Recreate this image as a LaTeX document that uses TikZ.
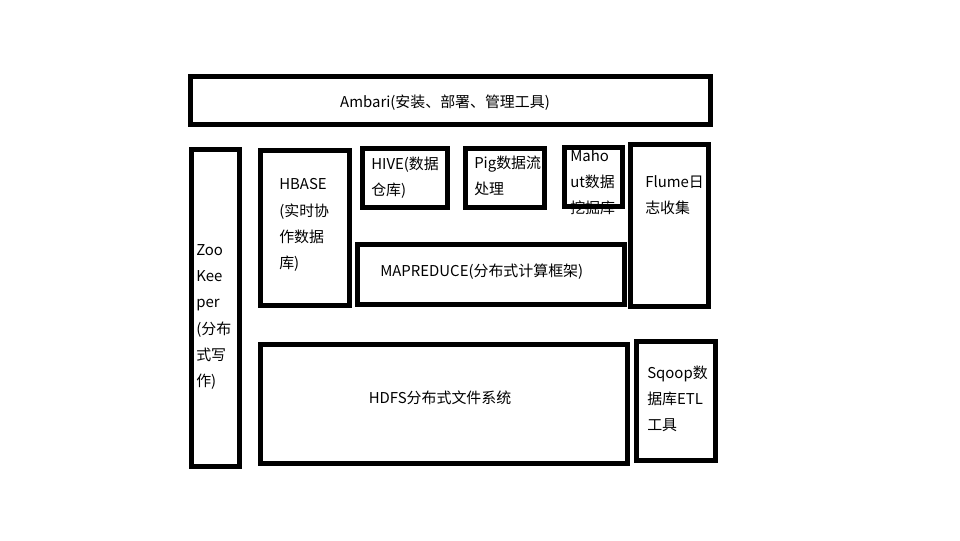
\documentclass[tikz,border=0pt]{standalone}
\usepackage{fontspec}
\setmainfont{Noto Sans CJK SC}
\begin{document}
\begin{tikzpicture}[x=0.75pt,y=-0.75pt,
  box/.style={draw=black,line width=3.75pt,fill=none,inner sep=0pt,outer sep=0pt},
  lbl/.style={inner sep=0pt,align=left,anchor=west,text=black,font=\fontsize{11.2}{19.6}\selectfont},
  clbl/.style={inner sep=0pt,align=center,text=black,font=\fontsize{11.2}{19.6}\selectfont}]
\useasboundingbox (0,0) rectangle (960,540);
\fill[white] (0,0) rectangle (960,540);
% texts
\node[clbl] (tAmbari) at (445,103) {Ambari(安装、部署、管理工具)};
\node[lbl] (tZoo) at (196,317) {Zoo\\Kee\\per\\(分布\\式写\\作)};
\node[lbl] (tHbase) at (279,225) {HBASE\\(实时协\\作数据\\库)};
\node[lbl] (tHive) at (371,178) {HIVE(数据\\仓库)};
\node[lbl] (tPig) at (474,176) {Pig数据流\\处理};
\node[lbl] (tMahout) at (570,182) {Maho\\ut数据\\挖掘库};
\node[lbl] (tFlume) at (645,195) {Flume日\\志收集};
\node[lbl] (tMap) at (380,272) {MAPREDUCE(分布式计算框架)};
\node[clbl] (tHdfs) at (440,398) {HDFS分布式文件系统};
\node[lbl] (tSqoop) at (647,399) {Sqoop数\\据库ETL\\工具};
% boxes
\node[box,minimum width=390pt,minimum height=36pt] (ambari) at (450.5,100.5) {};
\node[box,minimum width=36pt,minimum height=237.75pt] (zoo) at (215,308) {};
\node[box,minimum width=66.75pt,minimum height=116.25pt] (hbase) at (305,227.5) {};
\node[box,minimum width=63.75pt,minimum height=44.25pt] (hive) at (405,178) {};
\node[box,minimum width=59.25pt,minimum height=44.25pt] (pig) at (505,178) {};
\node[box,minimum width=43.5pt,minimum height=44.25pt] (mahout) at (593.5,177) {};
\node[box,minimum width=58.5pt,minimum height=121.5pt] (flume) at (669.5,225.5) {};
\node[box,minimum width=200.25pt,minimum height=45pt] (mapred) at (491,274.5) {};
\node[box,minimum width=275.25pt,minimum height=89.25pt] (hdfs) at (444,403.5) {};
\node[box,minimum width=59.25pt,minimum height=89.25pt] (sqoop) at (676,401) {};
\end{tikzpicture}
\end{document}
